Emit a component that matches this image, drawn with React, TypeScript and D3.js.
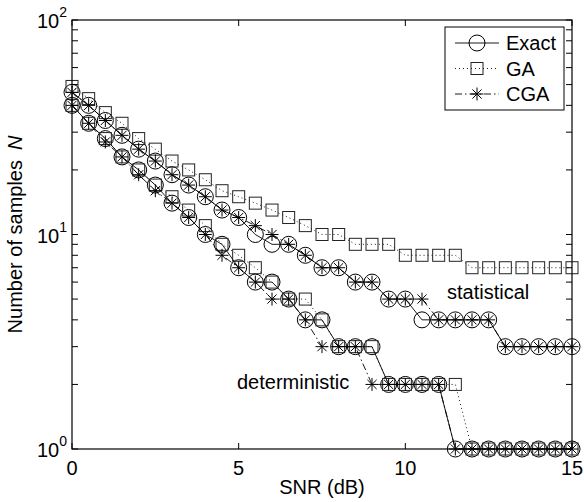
import React from "react";
import * as d3 from "d3";

const snr = [0, 0.5, 1, 1.5, 2, 2.5, 3, 3.5, 4, 4.5, 5, 5.5, 6, 6.5, 7, 7.5, 8, 8.5, 9, 9.5, 10, 10.5, 11, 11.5, 12, 12.5, 13, 13.5, 14, 14.5, 15];

const exactStat = [46, 40, 34, 29, 25, 22, 19, 17, 15, 13, 12, 10, 9, 9, 8, 7, 7, 6, 6, 5, 5, 4, 4, 4, 4, 4, 3, 3, 3, 3, 3];
const gaStat = [49, 43, 37, 33, 28, 25, 22, 20, 18, 16, 15, 14, 13, 12, 11, 10, 10, 9, 9, 9, 8, 8, 8, 8, 7, 7, 7, 7, 7, 7, 7];
const cgaStat = [46, 40, 34, 29, 25, 22, 19, 17, 15, 13, 12, 11, 10, 9, 8, 7, 7, 6, 6, 5, 5, 5, 4, 4, 4, 4, 3, 3, 3, 3, 3];

const exactDet = [40, 33, 28, 23, 20, 17, 14, 12, 10, 9, 7, 6, 6, 5, 4, 4, 3, 3, 3, 2, 2, 2, 2, 1, 1, 1, 1, 1, 1, 1, 1];
const gaDet = [40, 33, 28, 23, 20, 17, 15, 13, 11, 9, 8, 7, 6, 5, 5, 4, 3, 3, 3, 2, 2, 2, 2, 2, 1, 1, 1, 1, 1, 1, 1];
const cgaDet = [40, 33, 27, 23, 19, 16, 14, 12, 10, 8, 7, 6, 5, 5, 4, 3, 3, 3, 2, 2, 2, 2, 2, 1, 1, 1, 1, 1, 1, 1, 1];

const xTicks = [0, 5, 10, 15];
const yTicks = [1, 10, 100];
const yTickExp = ["0", "1", "2"];
const legendLabels = ["Exact", "GA", "CGA"];

const W = 584, H = 502;
const L = 72, R = 572, T = 20, B = 449;
const FONT = "'Liberation Sans', Arial, Helvetica, sans-serif";

type Style = { dash: string; marker: "circle" | "square" | "star" };
const styles: Style[] = [
  { dash: "none", marker: "circle" },
  { dash: "1,3", marker: "square" },
  { dash: "7,3,1.5,3", marker: "star" },
];

function Marker({ kind, cx, cy }: { kind: string; cx: number; cy: number }) {
  if (kind === "circle") return <circle cx={cx} cy={cy} r={8} fill="none" stroke="#000" strokeWidth={1} />;
  if (kind === "square") return <rect x={cx - 6} y={cy - 6} width={12} height={12} fill="none" stroke="#222" strokeWidth={1} />;
  const a = 6.5, d = 4.6;
  return (
    <g stroke="#000" strokeWidth={1}>
      <line x1={cx - a} y1={cy} x2={cx + a} y2={cy} />
      <line x1={cx} y1={cy - a} x2={cx} y2={cy + a} />
      <line x1={cx - d} y1={cy - d} x2={cx + d} y2={cy + d} />
      <line x1={cx - d} y1={cy + d} x2={cx + d} y2={cy - d} />
    </g>
  );
}

export default function App() {
  const x = d3.scaleLinear().domain([0, 15]).range([L, R]);
  const y = d3.scaleLog().domain([1, 100]).range([B, T]);
  const line = d3.line<number>().x((_, i) => x(snr[i])).y((v) => y(v));

  const groups = [
    [exactStat, gaStat, cgaStat],
    [exactDet, gaDet, cgaDet],
  ];

  const minor: number[] = [];
  [1, 10].forEach((dec) => {
    for (let k = 2; k <= 9; k++) minor.push(dec * k);
  });

  const tl = 6;

  return (
    <svg width={W} height={H} style={{ position: "absolute", left: 0, top: 0, background: "#fff" }} fontFamily={FONT}>
      <rect x={0} y={0} width={W} height={H} fill="#fff" />
      {groups.map((g, gi) =>
        g.map((vals, si) => (
          <g key={`${gi}-${si}`}>
            <path d={line(vals) || ""} fill="none" stroke="#000" strokeWidth={0.9} strokeDasharray={styles[si].dash} />
            {vals.map((v, i) => (
              <Marker key={i} kind={styles[si].marker} cx={x(snr[i])} cy={y(v)} />
            ))}
          </g>
        ))
      )}
      <rect x={L} y={T} width={R - L} height={B - T} fill="none" stroke="#000" strokeWidth={1.2} />
      {xTicks.map((t) => (
        <g key={t}>
          <line x1={x(t)} x2={x(t)} y1={B} y2={B - tl} stroke="#000" />
          <line x1={x(t)} x2={x(t)} y1={T} y2={T + tl} stroke="#000" />
          <text x={x(t)} y={B + 26} fontSize={20} textAnchor="middle">{t}</text>
        </g>
      ))}
      {yTicks.concat(minor).map((t) => (
        <g key={`y${t}`}>
          <line x1={L} x2={L + tl} y1={y(t)} y2={y(t)} stroke="#000" />
          <line x1={R} x2={R - tl} y1={y(t)} y2={y(t)} stroke="#000" />
        </g>
      ))}
      {yTicks.map((t, i) => (
        <text key={`yl${t}`} x={L - 5} y={y(t) + 8} fontSize={20} textAnchor="end">
          10<tspan fontSize={14} dy={-11}>{yTickExp[i]}</tspan>
        </text>
      ))}
      <text x={(L + R) / 2} y={494} fontSize={20} textAnchor="middle">SNR (dB)</text>
      <text transform={`translate(22,${(T + B) / 2}) rotate(-90)`} fontSize={20} textAnchor="middle">
        Number of samples<tspan fontStyle="italic" dx={10}>N</tspan>
      </text>
      <text x={447} y={299} fontSize={20}>statistical</text>
      <text x={237} y={389} fontSize={20}>deterministic</text>
      <rect x={445} y={27} width={119} height={83} fill="#fff" stroke="#000" strokeWidth={1} />
      {legendLabels.map((lab, i) => {
        const ly = 43 + i * 25.5;
        return (
          <g key={lab}>
            <line x1={455} x2={499} y1={ly} y2={ly} stroke="#000" strokeWidth={0.9} strokeDasharray={styles[i].dash} />
            <Marker kind={styles[i].marker} cx={477} cy={ly} />
            <text x={506} y={ly + 7} fontSize={20}>{lab}</text>
          </g>
        );
      })}
    </svg>
  );
}
